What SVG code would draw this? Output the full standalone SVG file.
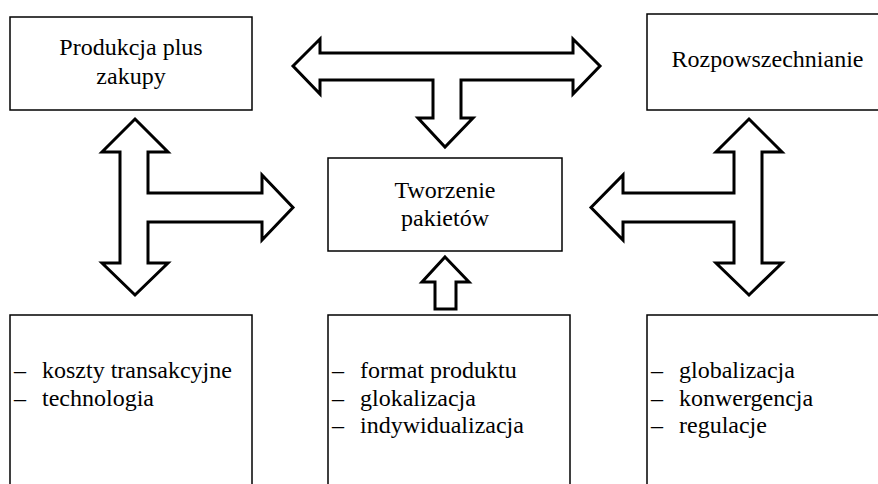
<svg xmlns="http://www.w3.org/2000/svg" width="878" height="484" viewBox="0 0 878 484">
<style>
.box{fill:#fff;stroke:#000;stroke-width:1.5}
.arr{fill:#fff;stroke:#000;stroke-width:3;stroke-linejoin:miter;stroke-miterlimit:10}
.t{font-family:'Liberation Serif','Times New Roman',Times,serif;font-size:24px;fill:#000}
.c{text-anchor:middle}
</style>
<rect width="878" height="484" fill="#fff"/>
<g id="connectors">
<polygon class="arr" points="293,66 320,39 320,53 573,53 573,39 600,66 573,94 573,80 461,80 461,118 473,118 445,147 418,118 433,118 433,80 320,80 320,94"/>
<polygon class="arr" points="135,119 168,152 148,152 148,193 262,193 262,175 293,207.5 262,240 262,222 148,222 148,263 168,263 135,295 102,263 120,263 120,152 102,152"/>
<polygon class="arr" points="749,119 782,152 762,152 762,263 782,263 749,295 716,263 734,263 734,222 623,222 623,240 591,207.5 623,175 623,193 734,193 734,152 716,152"/>
<polygon class="arr" points="445,257 469,282 456,282 456,309 435,309 435,282 422,282"/>
</g>
<g id="n-produkcja">
<rect class="box" x="10" y="17" width="242" height="93"/>
<text class="t c" font-family="Liberation Serif, serif" x="131" y="55">Produkcja plus</text>
<text class="t c" font-family="Liberation Serif, serif" x="131" y="84">zakupy</text>
</g>
<g id="n-rozpowszechnianie">
<rect class="box" x="647" y="14" width="250" height="96"/>
<text class="t c" x="767.5" y="67">Rozpowszechnianie</text>
</g>
<g id="n-tworzenie">
<rect class="box" x="328" y="158" width="234" height="93"/>
<text class="t c" x="445" y="198">Tworzenie</text>
<text class="t c" x="445" y="226">pakietów</text>
</g>
<g id="n-czynniki-lewe">
<rect class="box" x="10" y="315" width="242" height="200"/>
<text class="t" y="378"><tspan x="14">–</tspan><tspan x="42">koszty transakcyjne</tspan></text>
<text class="t" y="406"><tspan x="14">–</tspan><tspan x="42">technologia</tspan></text>
</g>
<g id="n-czynniki-srodkowe">
<rect class="box" x="328" y="315" width="242" height="200"/>
<text class="t" y="378"><tspan x="332">–</tspan><tspan x="360">format produktu</tspan></text>
<text class="t" y="405.5"><tspan x="332">–</tspan><tspan x="360">glokalizacja</tspan></text>
<text class="t" y="433"><tspan x="332">–</tspan><tspan x="360">indywidualizacja</tspan></text>
</g>
<g id="n-czynniki-prawe">
<rect class="box" x="647" y="315" width="250" height="200"/>
<text class="t" y="378"><tspan x="651">–</tspan><tspan x="679">globalizacja</tspan></text>
<text class="t" y="405.5"><tspan x="651">–</tspan><tspan x="679">konwergencja</tspan></text>
<text class="t" y="433"><tspan x="651">–</tspan><tspan x="679">regulacje</tspan></text>
</g>
</svg>
